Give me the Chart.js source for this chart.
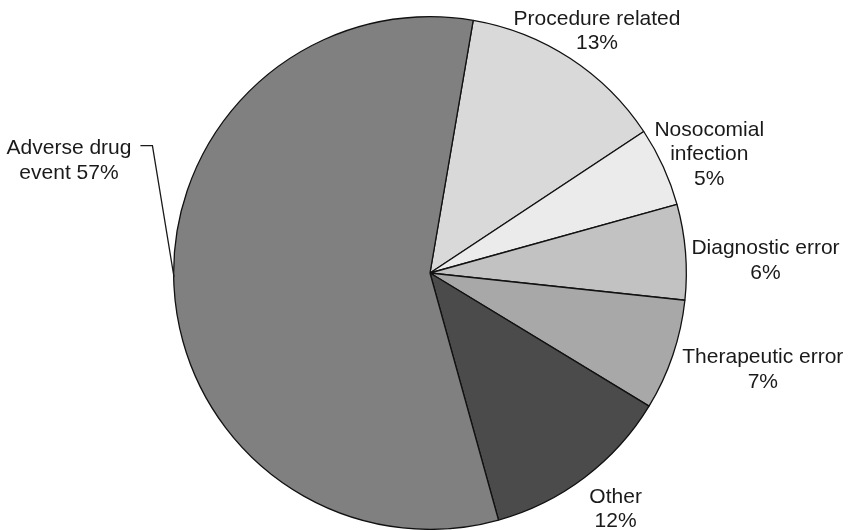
<!DOCTYPE html>
<html>
<head>
<meta charset="utf-8">
<script src="https://cdn.jsdelivr.net/npm/chart.js@4"></script>
<style>
  html, body { margin: 0; padding: 0; background: #fff; }
  #wrap { width: 854px; height: 530px; }
</style>
</head>
<body>
<div id="wrap"><canvas id="PieChart" width="854" height="530"></canvas></div>
<script>
// slices clockwise from the top
const categories = ["Procedure related", "Nosocomial infection", "Diagnostic error",
                    "Therapeutic error", "Other", "Adverse drug event"];
const values = [13, 5, 6, 7, 12, 57];
const labelLines = [
    ["Procedure related", "{v}%"],
    ["Nosocomial", "infection", "{v}%"],
    ["Diagnostic error", "{v}%"],
    ["Therapeutic error", "{v}%"],
    ["Other", "{v}%"],
    ["Adverse drug", "event {v}%"]
];
const sliceColors = ["#d9d9d9", "#ebebeb", "#c2c2c2", "#a8a8a8", "#4b4b4b", "#808080"];

// label centre offset from the arc's mid point on the rim
const labelOffsets = [[27, -29], [46, -14], [80, 7], [90, 13], [31, 30], [-105, -127]];

const sliceLabels = {
    id: "sliceLabels",
    afterDatasetsDraw(chart) {
        const ctx = chart.ctx;
        const meta = chart.getDatasetMeta(0);
        ctx.save();
        ctx.font = "21px 'Liberation Sans', Arial, sans-serif";
        ctx.fillStyle = "#1a1a1a";
        ctx.textAlign = "center";
        ctx.textBaseline = "alphabetic";
        ctx.strokeStyle = "#1a1a1a";
        ctx.lineWidth = 1.3;
        meta.data.forEach((arc, i) => {
            const p = arc.getProps(["x", "y", "startAngle", "endAngle", "outerRadius"], true);
            const mid = (p.startAngle + p.endAngle) / 2;
            const rx = p.x + Math.cos(mid) * p.outerRadius;
            const ry = p.y + Math.sin(mid) * p.outerRadius;
            const cx = rx + labelOffsets[i][0];
            const cy = ry + labelOffsets[i][1];
            const lines = labelLines[i].map(s => s.replace("{v}", values[i]));
            const lh = 24.5;
            const top = cy - (lines.length - 1) * lh / 2;
            lines.forEach((s, k) => {
                ctx.fillText(s, cx, top + k * lh + 7.5);
            });
            if (i === 5) {
                // leader line for the big slice
                const w = ctx.measureText(lines[0]).width;
                const x0 = cx + w / 2 + 9;
                const ty = top - 1;
                ctx.beginPath();
                ctx.moveTo(x0, ty);
                ctx.lineTo(x0 + 12, ty);
                ctx.lineTo(rx, ry - 9);
                ctx.stroke();
            }
        });
        ctx.restore();
    }
};

new Chart(document.getElementById("PieChart").getContext("2d"), {
    type: "pie",
    data: {
        labels: categories,
        datasets: [{
            data: values,
            backgroundColor: sliceColors,
            borderColor: "#111111",
            borderWidth: 1.3
        }]
    },
    options: {
        responsive: false,
        animation: false,
        rotation: 9.7,
        layout: { padding: { left: 6, right: 0, top: 16, bottom: 0 } },
        plugins: {
            legend: { display: false },
            tooltip: { enabled: false }
        }
    },
    plugins: [sliceLabels]
});
</script>
</body>
</html>
